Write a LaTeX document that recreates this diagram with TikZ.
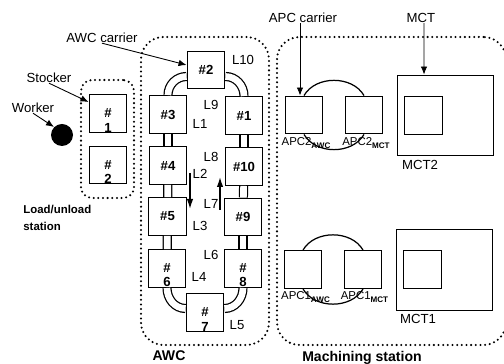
\documentclass[tikz,border=0pt]{standalone}
\usepackage{fontspec}
\setmainfont{Liberation Sans}
\usetikzlibrary{arrows.meta,positioning}
\tikzset{
  basefont/.style={font=\fontsize{7.5}{8}\selectfont},
  cellbox/.style={draw,fill=white,minimum size=.75cm,inner sep=0pt,line width=.8pt,align=center,font=\fontsize{7.5}{8}\selectfont\bfseries},
  mctbox/.style={draw,line width=.8pt,minimum width=1.93cm,minimum height=1.61cm,inner sep=0pt},
  zonebox/.style={draw,line width=1.3pt,line cap=round,dash pattern=on 0pt off 2.65pt,rounded corners=.45cm,inner sep=0pt},
  rail/.style={double,line width=.7pt,double distance=3.8pt},
  loopline/.style={line width=.7pt},
  tag/.style={inner sep=0pt,basefont},
  apctag/.style={inner sep=0pt,font=\fontsize{6.5}{7}\selectfont},
  headtag/.style={inner sep=0pt,font=\fontsize{8}{9}\selectfont\bfseries},
  ptr/.style={-{Latex[length=1.6mm,width=1.3mm]},line width=.5pt},
  flowptr/.style={-{Latex[length=2mm,width=1.3mm]},line width=.8pt}
}
\newcommand{\stacked}[1]{\phantom{\#}\\\#\\#1}
\newcommand{\apcname}[2]{APC#1\raisebox{-1.3pt}{\fontsize{4.6}{5}\selectfont\bfseries #2}}
\begin{document}
\begin{tikzpicture}[>=Latex]
\useasboundingbox (0,0) rectangle (10.08,7.28);
\node[zonebox,rounded corners=.22cm,minimum width=1.06cm,minimum height=2.36cm] (zone_load) at (2.15,4.50) {};
\node[zonebox,minimum width=2.56cm,minimum height=6.16cm] (zone_awc) at (4.10,3.46) {};
\node[zonebox,minimum width=4.58cm,minimum height=6.16cm] (zone_mach) at (7.83,3.46) {};
\node[cellbox] (c2) at (4.12,5.88) {\#2};
\node[cellbox] (c3) at (3.36,4.99) {\#3};
\node[cellbox] (c1) at (4.88,4.97) {\#1};
\node[cellbox] (c4) at (3.36,3.97) {\#4};
\node[cellbox] (c10) at (4.88,3.95) {\#10};
\node[cellbox] (c5) at (3.35,2.95) {\#5};
\node[cellbox] (c9) at (4.86,2.94) {\#9};
\node[cellbox] (c6) at (3.34,1.91) {\stacked{6}};
\node[cellbox] (c8) at (4.86,1.91) {\stacked{8}};
\node[cellbox] (c7) at (4.10,1.03) {\stacked{7}};
\node[cellbox] (s1) at (2.16,5.01) {\stacked{1}};
\node[cellbox] (s2) at (2.16,3.98) {\stacked{2}};
\node[circle,fill=black,minimum size=.44cm,inner sep=0pt] (worker) at (1.24,4.58) {};
\draw[rail] (c3) -- (c4);
\draw[rail] (c4) -- (c5);
\draw[rail] (c5) -- (c6);
\draw[rail] (c1) -- (c10);
\draw[rail] (c10) -- (c9);
\draw[rail] (c9) -- (c8);
\draw[rail] (c3.north) to[out=90,in=180] ([yshift=-.13cm]c2.west);
\draw[rail] (c1.north) to[out=90,in=0] ([yshift=-.13cm]c2.east);
\draw[rail] (c6.south) to[out=-90,in=180] ([yshift=.08cm]c7.west);
\draw[rail] (c8.south) to[out=-90,in=0] ([yshift=.08cm]c7.east);
\node[cellbox,font=\normalfont] (a2a) at (6.08,4.98) {};
\node[cellbox,font=\normalfont] (a2m) at (7.28,4.98) {};
\node[cellbox,font=\normalfont] (a1a) at (6.06,1.89) {};
\node[cellbox,font=\normalfont] (a1m) at (7.26,1.89) {};
\node[mctbox] (m2) at (8.91,4.97) {};
\node[cellbox,font=\normalfont] (m2in) at (8.47,4.97) {};
\node[mctbox] (m1) at (8.89,1.88) {};
\node[cellbox,font=\normalfont] (m1in) at (8.45,1.89) {};
\draw[loopline] (a2a.north) to[out=60,in=120] (a2m.north);
\draw[loopline] (a2a.south) to[out=-60,in=-120] (a2m.south);
\draw[loopline] (a1a.north) to[out=60,in=120] (a1m.north);
\draw[loopline] (a1a.south) to[out=-60,in=-120] (a1m.south);
\node[tag] (t_l10) at (4.86,6.08) {L10};
\node[tag] (t_l9) at (4.22,5.18) {L9};
\node[tag] (t_l1) at (4.00,4.80) {L1};
\node[tag] (t_l8) at (4.22,4.14) {L8};
\node[tag] (t_l2) at (4.00,3.80) {L2};
\node[tag] (t_l7) at (4.22,3.20) {L7};
\node[tag] (t_l3) at (4.00,2.76) {L3};
\node[tag] (t_l6) at (4.22,2.18) {L6};
\node[tag] (t_l4) at (3.98,1.74) {L4};
\node[tag] (t_l5) at (4.74,0.78) {L5};
\node[tag] (awccarrier) at (2.04,6.52) {AWC carrier};
\node[tag] (stocker) at (0.98,5.72) {Stocker};
\node[tag] (workertag) at (0.66,5.12) {Worker};
\node[tag] (apccarrier) at (6.06,6.92) {APC carrier};
\node[tag] (mcttag) at (8.42,6.92) {MCT};
\node[tag] (m2tag) at (8.40,3.98) {MCT2};
\node[tag] (m1tag) at (8.36,0.90) {MCT1};
\node[apctag] (a2atag) at (6.12,4.42) {\apcname{2}{AWC}};
\node[apctag] (a2mtag) at (7.32,4.42) {\apcname{2}{MCT}};
\node[apctag] (a1atag) at (6.11,1.34) {\apcname{1}{AWC}};
\node[apctag] (a1mtag) at (7.29,1.34) {\apcname{1}{MCT}};
\node[headtag,font=\fontsize{6.5}{9.6}\selectfont\bfseries,align=left,anchor=north west] (loadtag) at (0.46,3.18) {Load/unload\\station};
\node[headtag] (awctag) at (3.38,0.16) {AWC};
\node[headtag] (machtag) at (7.24,0.12) {Machining station};
\coordinate (l2top) at (3.80,3.82);
\coordinate (l2tip) at (3.80,3.10);
\coordinate (l7low) at (4.40,3.08);
\coordinate (l7tip) at (4.40,3.74);
\draw[ptr] (awccarrier.south) -- ([yshift=.1cm]c2.west);
\draw[ptr] (stocker.south) -- ([yshift=.23cm]s1.west);
\draw[ptr] (workertag.south) -- (worker.north west);
\draw[ptr] ([xshift=-.06cm]apccarrier.south) -- ([xshift=-.08cm]a2a.north);
\draw[ptr] ([xshift=.06cm]mcttag.south) -- ([xshift=-.43cm]m2.north);
\draw[flowptr] (l2top) -- (l2tip);
\draw[flowptr] (l7low) -- (l7tip);
\end{tikzpicture}
\end{document}
